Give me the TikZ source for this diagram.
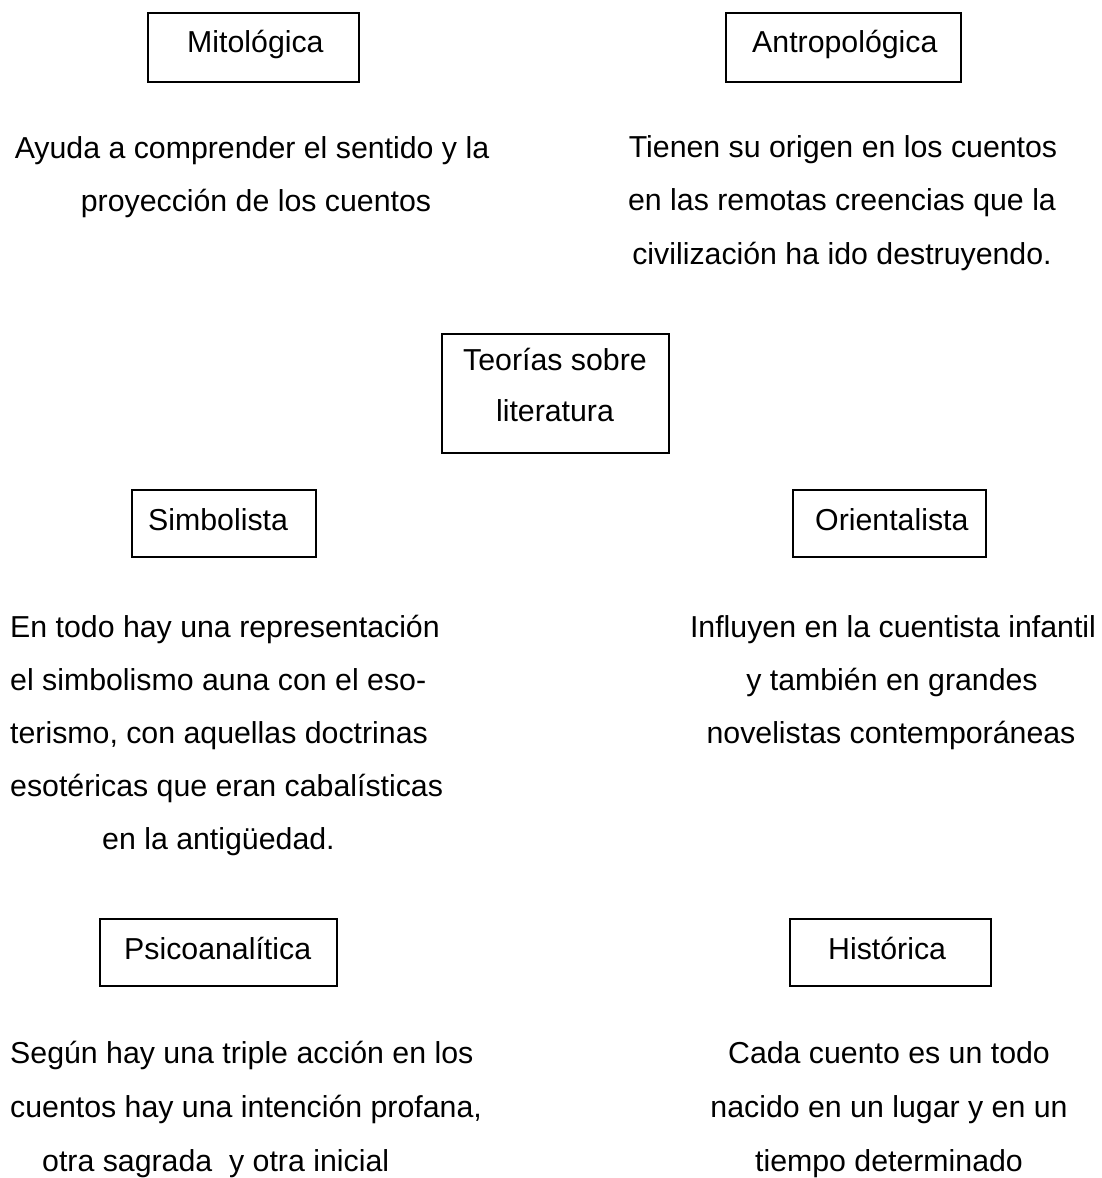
\documentclass[tikz,border=0pt]{standalone}
\usepackage{fontspec}
\setmainfont{Liberation Sans}
\begin{document}
\begin{tikzpicture}[x=1pt,y=-1pt,
  box/.style={draw, line width=1.9pt, inner sep=0pt, anchor=north west},
  txt/.style={inner sep=0pt, anchor=base, font=\fontsize{30.3}{36}\selectfont},
  txtl/.style={txt, anchor=base west}]
\useasboundingbox (0,0) rectangle (1101,1178);
% top boxes
\node[box, minimum width=211pt, minimum height=69pt] (mitoB) at (147,12) {};
\node[txtl] (mitoT) at (187,52) {Mitológica};
\node[box, minimum width=235pt, minimum height=69pt] (antroB) at (725,12) {};
\node[txtl] (antroT) at (752,52) {Antropológica};
% top texts
\node[txt] (m1) at (252,158) {Ayuda a comprender el sentido y la};
\node[txt] (m2) at (256,211) {proyección de los cuentos};
\node[txt] (a1) at (843,157) {Tienen su origen en los cuentos};
\node[txt] (a2) at (842,210) {en las remotas creencias que la};
\node[txt] (a3) at (842,264) {civilización ha ido destruyendo.};
% center
\node[box, minimum width=227pt, minimum height=119pt] (teoB) at (441,333) {};
\node[txt] (teo1) at (555,370) {Teorías sobre};
\node[txt] (teo2) at (555,421) {literatura};
% middle boxes
\node[box, minimum width=184pt, minimum height=67pt] (simB) at (131,489) {};
\node[txtl] (simT) at (148,530) {Simbolista};
\node[box, minimum width=193pt, minimum height=67pt] (oriB) at (792,489) {};
\node[txtl] (oriT) at (815,530) {Orientalista};
% middle texts
\node[txtl] (s1) at (10,637) {En todo hay una representación};
\node[txtl] (s2) at (10,690) {el simbolismo auna con el eso-};
\node[txtl] (s3) at (10,743) {terismo, con aquellas doctrinas};
\node[txtl] (s4) at (10,796) {esotéricas que eran cabalísticas};
\node[txtl] (s5) at (102,849) {en la antigüedad.};
\node[txt] (o1) at (893,637) {Influyen en la cuentista infantil};
\node[txt] (o2) at (892,690) {y también en grandes};
\node[txt] (o3) at (891,743) {novelistas contemporáneas};
% bottom boxes
\node[box, minimum width=237pt, minimum height=67pt] (psiB) at (99,918) {};
\node[txtl] (psiT) at (124,959) {Psicoanalítica};
\node[box, minimum width=201pt, minimum height=67pt] (hisB) at (789,918) {};
\node[txtl] (hisT) at (828,959) {Histórica};
% bottom texts
\node[txtl] (p1) at (10,1063) {Según hay una triple acción en los};
\node[txtl] (p2) at (10,1117) {cuentos hay una intención profana,};
\node[txtl] (p3) at (42,1171) {otra sagrada\ \ y otra inicial};
\node[txt] (h1) at (889,1063) {Cada cuento es un todo};
\node[txt] (h2) at (889,1117) {nacido en un lugar y en un};
\node[txt] (h3) at (889,1171) {tiempo determinado};
\end{tikzpicture}
\end{document}
